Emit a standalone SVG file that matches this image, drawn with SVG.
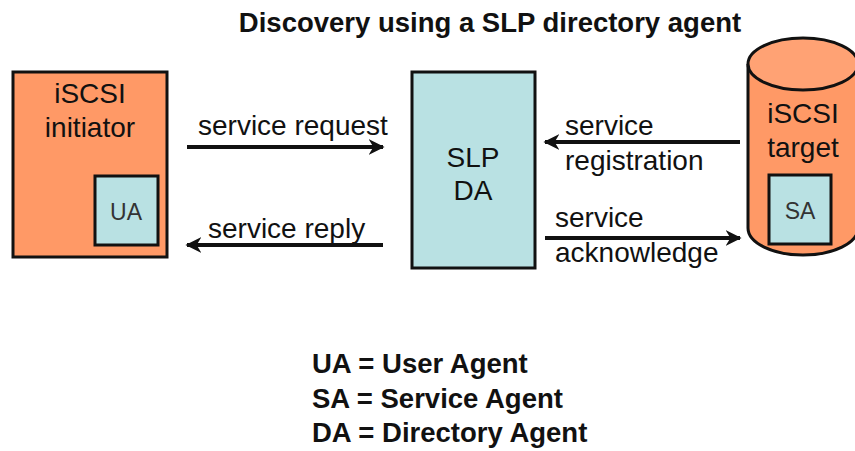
<svg xmlns="http://www.w3.org/2000/svg" width="855" height="451" viewBox="0 0 855 451">
<defs>
<style>
.t{font-family:"Liberation Sans",Arial,sans-serif;font-size:28px;fill:#111}
.b{font-weight:bold;font-size:27.5px}
.m{text-anchor:middle}
.s{font-family:"Liberation Sans",Arial,sans-serif;font-size:23px;fill:#333;text-anchor:middle}
.org{fill:#FF9966;stroke:#111;stroke-width:3}
.blu{fill:#B9E1E3;stroke:#111;stroke-width:3}
.ln{stroke:#111;stroke-width:4;fill:none}
</style>
<marker id="ah" viewBox="0 0 10 10" refX="9" refY="5" markerWidth="4" markerHeight="5" orient="auto" markerUnits="strokeWidth">
<path d="M0,0 L10,5 L0,10 L3,5 Z" fill="#111"/>
</marker>
</defs>
<rect width="855" height="451" fill="#fff"/>
<text class="t b m" x="490" y="32">Discovery using a SLP directory agent</text>
<g id="initiator">
<rect class="org" x="13" y="72" width="154" height="185"/>
<text class="t m" x="90" y="103">iSCSI</text>
<text class="t m" x="90" y="137">initiator</text>
</g>
<g id="ua">
<rect class="blu" x="95" y="176" width="63" height="69"/>
<text class="s" x="126" y="220">UA</text>
</g>
<g id="slpda">
<rect class="blu" x="412" y="72" width="123" height="196"/>
<text class="t m" x="473" y="167">SLP</text>
<text class="t m" x="473" y="200">DA</text>
</g>
<g id="target">
<path class="org" d="M748,64 L748,228 A55,27 0 0 0 858,228 L858,64"/>
<ellipse cx="803" cy="64" rx="55" ry="26" fill="#FFA274" stroke="#111" stroke-width="3"/>
<text class="t m" x="803" y="123">iSCSI</text>
<text class="t m" x="803" y="157">target</text>
</g>
<g id="sa">
<rect class="blu" x="769" y="175" width="62" height="69"/>
<text class="s" x="800" y="219">SA</text>
</g>
<g id="connectors">
<line class="ln" x1="187" y1="147" x2="383" y2="147" marker-end="url(#ah)"/>
<line class="ln" x1="383" y1="245" x2="187" y2="245" marker-end="url(#ah)"/>
<line class="ln" x1="740" y1="142" x2="545" y2="142" marker-end="url(#ah)"/>
<line class="ln" x1="545" y1="238" x2="740" y2="238" marker-end="url(#ah)"/>
<text class="t" x="198" y="135">service request</text>
<text class="t" x="208" y="238">service reply</text>
<text class="t" x="565" y="135">service</text>
<text class="t" x="565" y="170">registration</text>
<text class="t" x="555" y="227">service</text>
<text class="t" x="555" y="262">acknowledge</text>
</g>
<g id="legend">
<text class="t b" x="312" y="373">UA = User Agent</text>
<text class="t b" x="312" y="408">SA = Service Agent</text>
<text class="t b" x="312" y="442">DA = Directory Agent</text>
</g>
</svg>
